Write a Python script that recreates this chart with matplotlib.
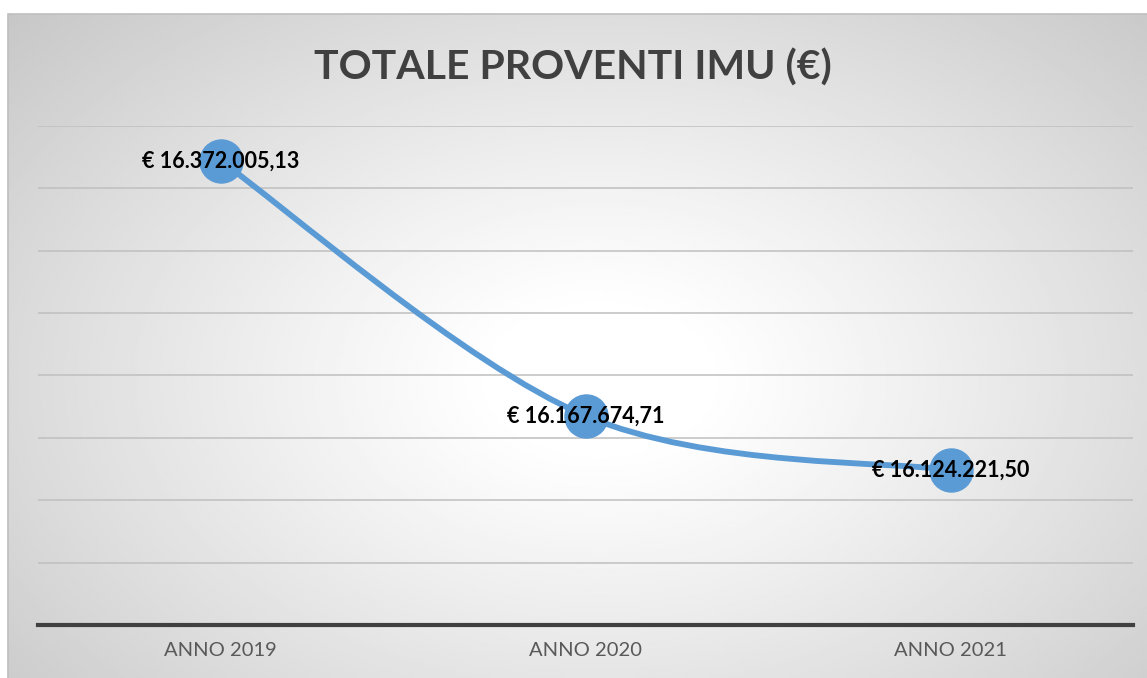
import numpy as np
import matplotlib.pyplot as plt
from matplotlib.path import Path
from matplotlib.patches import PathPatch, Rectangle

anni = ['ANNO 2019', 'ANNO 2020', 'ANNO 2021']
proventi = [16372005.13, 16167674.71, 16124221.50]
etichette = ['€ 16.372.005,13', '€ 16.167.674,71', '€ 16.124.221,50']

W, H = 1147, 678
fig = plt.figure(figsize=(W / 100, H / 100), dpi=100)
fig.patch.set_facecolor('white')

# chart area with radial gradient
x0, y0 = 8, 14
bg = fig.add_axes([x0 / W, 0, (W - x0) / W, (H - y0) / H], zorder=0)
gx, gy = np.meshgrid(np.linspace(0, 1, 400), np.linspace(0, 1, 240))
r = np.sqrt(((gx - 0.52) / 0.75) ** 2 + ((gy - 0.55) / 0.85) ** 2)
shade = 1.0 - 0.27 * np.clip(r - 0.12, 0, 1) ** 1.1
bg.imshow(shade, cmap='gray', vmin=0, vmax=1, aspect='auto', extent=[0, 1, 0, 1])
bg.axis('off')
fig.patches.append(Rectangle((x0 / W, -0.01), (W - x0) / W + 0.01, (H - y0) / H + 0.01,
                             transform=fig.transFigure, fill=False,
                             edgecolor='#BFBFBF', linewidth=1.2, zorder=1))

left, right, top, bottom = 38, 1133, 126, 625
ax = fig.add_axes([left / W, (H - bottom) / H, (right - left) / W, (bottom - top) / H], zorder=2)
ax.patch.set_alpha(0)

x = np.arange(len(anni))
y = np.array(proventi)

# smoothed line (cubic bezier through the points)
verts = [(x[0], y[0])]
codes = [Path.MOVETO]
pts = list(zip(x, y))
for i in range(len(pts) - 1):
    p0 = np.array(pts[i - 1] if i > 0 else pts[i])
    p1 = np.array(pts[i])
    p2 = np.array(pts[i + 1])
    p3 = np.array(pts[i + 2] if i + 2 < len(pts) else pts[i + 1])
    c1 = p1 + (p2 - p0) / 6
    c2 = p2 - (p3 - p1) / 6
    verts += [tuple(c1), tuple(c2), tuple(p2)]
    codes += [Path.CURVE4] * 3
ax.add_patch(PathPatch(Path(verts, codes), facecolor='none', edgecolor='#5B9BD5',
                       linewidth=4.2, capstyle='round', zorder=3))
ax.plot(x, y, linestyle='none', marker='o', markersize=31, color='#5B9BD5', zorder=4)

for xi, yi, t in zip(x, y, etichette):
    ax.text(xi, yi, t, ha='center', va='center', fontsize=15.5, fontweight='bold',
            family=['Lato', 'DejaVu Sans'], color='black', zorder=5)

ax.set_xlim(-0.5, 2.5)
ax.set_ylim(16000000, 16400000)
ax.set_yticks(np.arange(16000000, 16400001, 50000))
ax.yaxis.grid(True, color='#BFBFBF', linewidth=1.1)
ax.set_axisbelow(True)
ax.tick_params(axis='y', left=False, labelleft=False)
ax.set_xticks(x)
ax.set_xticklabels(anni, fontsize=14.5, color='#595959', family=['Lato', 'DejaVu Sans'])
ax.tick_params(axis='x', length=0, pad=12)
for s in ['top', 'left', 'right']:
    ax.spines[s].set_visible(False)
ax.spines['bottom'].set_color('#404040')
ax.spines['bottom'].set_linewidth(3)

fig.text(573 / W, 1 - 68 / H, 'TOTALE PROVENTI IMU (€)', ha='center', va='center',
         fontsize=29.5, fontweight='bold', color='#404040', family=['Lato', 'DejaVu Sans'])

fig.savefig('out.png', dpi=100)
